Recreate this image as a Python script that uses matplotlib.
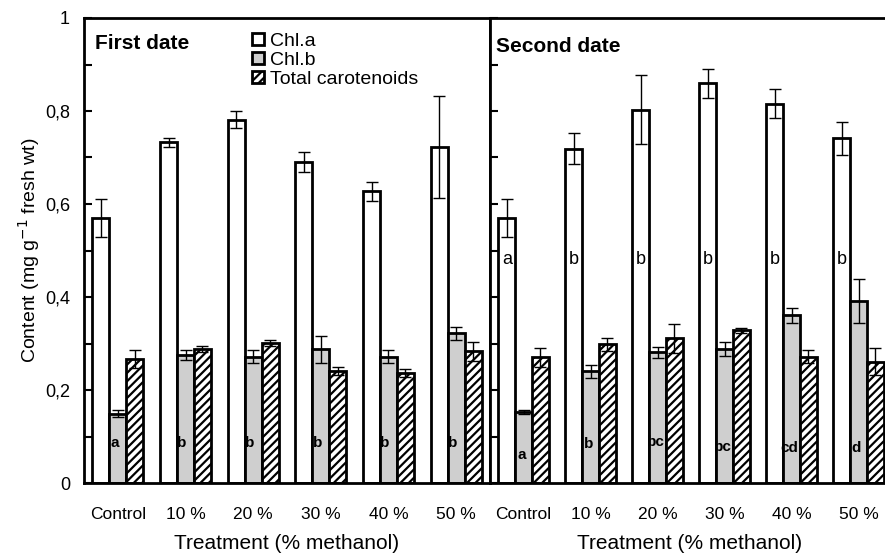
import numpy as np
import matplotlib
matplotlib.use("Agg")
import matplotlib.pyplot as plt
from matplotlib.patches import Patch

plt.rcParams['font.family'] = ['Liberation Sans', 'DejaVu Sans']
plt.rcParams['hatch.linewidth'] = 1.6

treatments = ['Control', '10 %', '20 %', '30 %', '40 %', '50 %']

# first date
chla_1 = [0.570, 0.733, 0.781, 0.690, 0.627, 0.723]
chla_1_err = [0.040, 0.010, 0.018, 0.022, 0.021, 0.110]
chlb_1 = [0.149, 0.275, 0.272, 0.288, 0.272, 0.322]
chlb_1_err = [0.008, 0.011, 0.013, 0.029, 0.015, 0.014]
car_1 = [0.266, 0.288, 0.301, 0.241, 0.237, 0.283]
car_1_err = [0.019, 0.007, 0.007, 0.009, 0.009, 0.021]
chlb_1_letters = ['a', 'b', 'b', 'b', 'b', 'b']

# second date
chla_2 = [0.570, 0.719, 0.803, 0.860, 0.816, 0.741]
chla_2_err = [0.040, 0.033, 0.075, 0.031, 0.031, 0.036]
chlb_2 = [0.153, 0.240, 0.281, 0.289, 0.361, 0.391]
chlb_2_err = [0.005, 0.014, 0.012, 0.015, 0.016, 0.047]
car_2 = [0.270, 0.298, 0.311, 0.328, 0.272, 0.261]
car_2_err = [0.021, 0.014, 0.031, 0.006, 0.013, 0.029]
chla_2_letters = ['a', 'b', 'b', 'b', 'b', 'b']
chlb_2_letters = ['a', 'b', 'bc', 'bc', 'cd', 'd']
chlb_2_letter_y = [0.060, 0.083, 0.089, 0.078, 0.076, 0.076]

fig = plt.figure(figsize=(8.85, 5.57), dpi=100)
ax1 = fig.add_axes([84 / 885, 1 - 483 / 557, 406 / 885, 465 / 557])
ax2 = fig.add_axes([490 / 885, 1 - 483 / 557, 400 / 885, 465 / 557])

x = np.arange(len(treatments))
w = 0.25
gray = '#cfcfcf'
err_kw = dict(ecolor='black', elinewidth=1.0, capsize=4, capthick=1.0)


def draw_panel(ax, a, ae, b, be, c, ce):
    ax.bar(x - w, a, w, yerr=ae, color='white', edgecolor='black',
           linewidth=2, error_kw=err_kw, zorder=2)
    ax.bar(x, b, w, yerr=be, color=gray, edgecolor='black',
           linewidth=2, error_kw=err_kw, zorder=2)
    ax.bar(x + w, c, w, yerr=ce, color='white', edgecolor='black',
           linewidth=2, hatch='////', error_kw=err_kw, zorder=2)
    ax.set_ylim(0, 1)
    ax.set_yticks(np.arange(0, 1.01, 0.1))
    ax.tick_params(axis='y', direction='in', length=6, width=1.5)
    ax.set_xticks(x)
    ax.set_xticklabels(treatments, fontsize=12.5)
    ax.tick_params(axis='x', length=0, pad=17)
    ax.set_xlabel('Treatment (% methanol)', fontsize=15, labelpad=9)
    for s in ax.spines.values():
        s.set_linewidth(2)


draw_panel(ax1, chla_1, chla_1_err, chlb_1, chlb_1_err, car_1, car_1_err)
draw_panel(ax2, chla_2, chla_2_err, chlb_2, chlb_2_err, car_2, car_2_err)

ax1.set_xlim(-0.5, 5.5)
ax2.set_xlim(-0.5, 5.47)
ax1.set_yticklabels(['0', '', '0,2', '', '0,4', '', '0,6', '', '0,8', '', '1'],
                    fontsize=13)
ax1.tick_params(axis='y', pad=10)
ax2.set_yticklabels([])
ax2.spines['right'].set_visible(False)

ax1.set_ylabel('Content (mg g$^{-1}$ fresh wt)', fontsize=14, labelpad=2)

ax1.text(0.026, 0.965, 'First date', transform=ax1.transAxes, fontsize=15,
         fontweight='bold', va='top', ha='left')
ax2.text(0.015, 0.96, 'Second date', transform=ax2.transAxes, fontsize=15,
         fontweight='bold', va='top', ha='left')

for i, t in enumerate(chlb_1_letters):
    ax1.text(x[i] - 0.05, 0.086, t, ha='center', va='center', fontsize=11,
             fontweight='bold', zorder=3)
for i, t in enumerate(chlb_2_letters):
    ax2.text(x[i] - 0.03, chlb_2_letter_y[i], t, ha='center', va='center',
             fontsize=11, fontweight='bold', zorder=3)
for i, t in enumerate(chla_2_letters):
    ax2.text(x[i] - w, 0.48, t, ha='center', va='center',
             fontsize=13, zorder=3)

handles = [Patch(facecolor='white', edgecolor='black', linewidth=2),
           Patch(facecolor=gray, edgecolor='black', linewidth=2),
           Patch(facecolor='white', edgecolor='black', linewidth=2, hatch='////')]
ax1.legend(handles, ['Chl.a', 'Chl.b', 'Total carotenoids'],
           loc='upper left', bbox_to_anchor=(0.395, 0.985), frameon=False,
           fontsize=14, handlelength=0.6, handleheight=0.6,
           handletextpad=0.3, labelspacing=0.1, borderaxespad=0)

fig.savefig('out.png', dpi=100)
